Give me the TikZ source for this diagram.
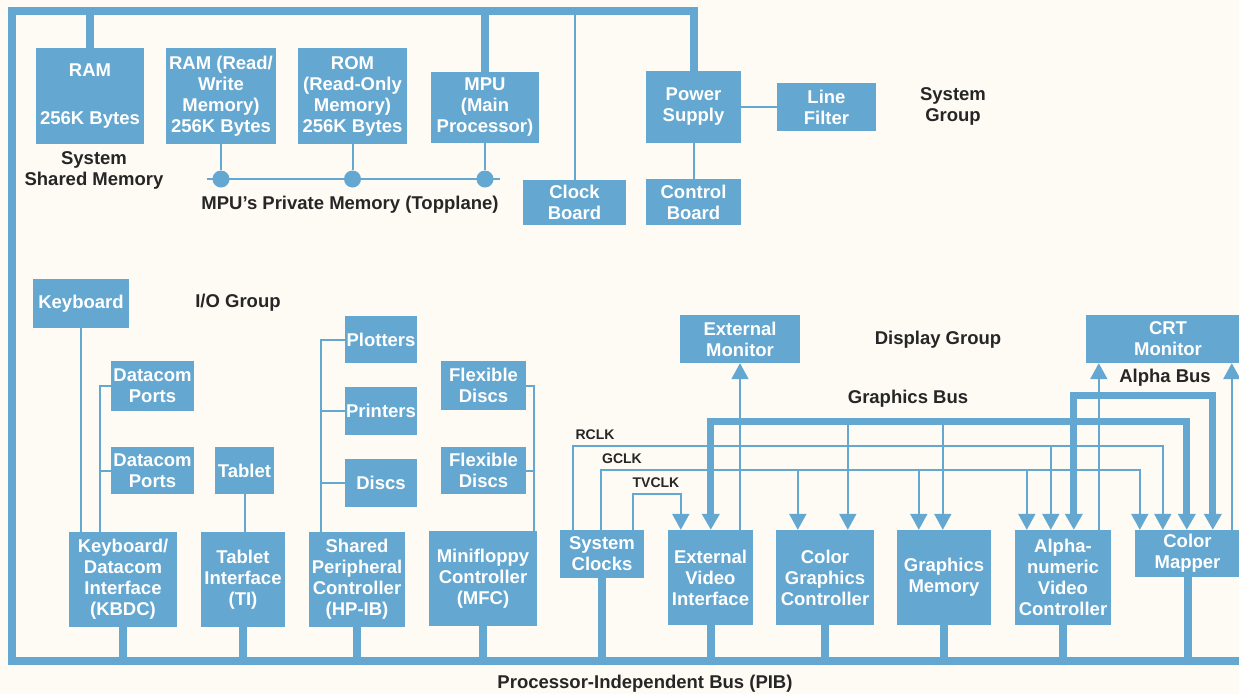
\documentclass[tikz,border=0pt]{standalone}
\usepackage{fontspec}
\setmainfont{Liberation Sans}
\usepackage{tikz}
\usetikzlibrary{positioning}
\usetikzlibrary{arrows.meta}
\usetikzlibrary{calc}
\definecolor{hpblue}{RGB}{100,167,208}
\definecolor{paper}{RGB}{253,251,244}
\definecolor{ink}{RGB}{38,38,38}

\begin{document}
\begin{tikzpicture}[x=1pt,y=-1pt]
	\useasboundingbox (0,0) rectangle (1239,694);
	\fill[paper] (0,0) rectangle (1239,694);
	\clip (0,0) rectangle (1239,694);

	\begin{scope}[every node/.style={fill=hpblue,text=white,inner sep=0pt,align=center,
	              font=\fontsize{18.5}{21}\selectfont\bfseries}]
	    \node (ram) [minimum width=108pt,minimum height=96pt] at (90,96) {RAM\\[27pt]256K Bytes};
	    \node (rwram) [minimum width=110pt,minimum height=96pt] at (221,96) {RAM (Read/\\Write\\Memory)\\256K Bytes};
	    \node (rom) [minimum width=109pt,minimum height=96pt] at (352.5,96) {ROM\\(Read-Only\\Memory)\\256K Bytes};
	    \node (mpu) [minimum width=108pt,minimum height=71pt] at (485,107.5) {MPU\\(Main\\Processor)};
	    \node (clock) [minimum width=103pt,minimum height=45pt] at (574.5,202.5) {Clock\\Board};
	    \node (power) [minimum width=95pt,minimum height=72pt] at (693.5,107) {Power\\Supply};
	    \node (filter) [minimum width=99pt,minimum height=48pt] at (826.5,107) {Line\\Filter};
	    \node (control) [minimum width=95pt,minimum height=46pt] at (693.5,202) {Control\\Board};

	    \node (keyboard) [minimum width=96pt,minimum height=49pt] at (81,303.5) {Keyboard};
	    \node (dc1) [minimum width=83pt,minimum height=50pt] at (152.5,386) {Datacom\\Ports};
	    \node (dc2) [minimum width=83pt,minimum height=47pt] at (152.5,470.5) {Datacom\\Ports};
	    \node (tablet) [minimum width=59pt,minimum height=47pt] at (244.5,470.5) {Tablet};
	    \node (kbdc) [minimum width=108pt,minimum height=95pt] at (123,579.5) {Keyboard/\\Datacom\\Interface\\(KBDC)};
	    \node (ti) [minimum width=84pt,minimum height=95pt] at (243,579.5) {Tablet\\Interface\\(TI)};
	    \node (spc) [minimum width=96pt,minimum height=95pt] at (357,579.5) {Shared\\Peripheral\\Controller\\(HP-IB)};
	    \node (plotters) [minimum width=72pt,minimum height=47pt] at (381,339.5) {Plotters};
	    \node (printers) [minimum width=72pt,minimum height=48pt] at (381,411) {Printers};
	    \node (discs) [minimum width=72pt,minimum height=48pt] at (381,483) {Discs};
	    \node (fd1) [minimum width=85pt,minimum height=49pt] at (483.5,385.5) {Flexible\\Discs};
	    \node (fd2) [minimum width=85pt,minimum height=47pt] at (483.5,470.5) {Flexible\\Discs};
	    \node (mfc) [minimum width=108pt,minimum height=95pt] at (483,578.5) {Minifloppy\\Controller\\(MFC)};

	    \node (extmon) [minimum width=120pt,minimum height=48pt] at (740,339) {External\\Monitor};
	    \node (crt) [minimum width=164pt,minimum height=48pt] at (1168,339) {CRT\\Monitor};
	    \node (sysclk) [minimum width=84pt,minimum height=48pt] at (602,554) {System\\Clocks};
	    \node (evi) [minimum width=85pt,minimum height=95pt] at (710.5,577.5) {External\\Video\\Interface};
	    \node (cgc) [minimum width=98pt,minimum height=95pt] at (825,577.5) {Color\\Graphics\\Controller};
	    \node (gmem) [minimum width=94pt,minimum height=95pt] at (944,577.5) {Graphics\\Memory};
	    \node (avc) [minimum width=96pt,minimum height=95pt] at (1063,577.5) {Alpha-\\numeric\\Video\\Controller};
	    \node (cmap) [minimum width=105pt,minimum height=47pt] at (1187.5,553.5) {Color\\Mapper};

	    \node (d1) [circle,minimum size=17pt] at (221,179) {};
	    \node (d2) [circle,minimum size=17pt] at (352.5,179) {};
	    \node (d3) [circle,minimum size=17pt] at (485,179) {};
	\end{scope}

	\begin{scope}[every node/.style={text=ink,align=center,inner sep=0pt,
	              font=\fontsize{18.5}{21}\selectfont\bfseries}]
	    \node (shared) at (94,170) {System\\Shared Memory};
	    \node (private) at (350,205) {MPU's Private Memory (Topplane)};
	    \node (sysgroup) at (953,106) {System\\Group};
	    \node (iogroup) at (238,303) {I/O Group};
	    \node (dispgroup) at (938,340) {Display Group};
	    \node (gbuslabel) at (908,399) {Graphics Bus};
	    \node (abuslabel) at (1165,378) {Alpha Bus};
	    \node (pib) at (645,684) {Processor-Independent Bus (PIB)};
	    \node (rclklabel) [font=\fontsize{14}{16}\selectfont\bfseries] at (595,435) {RCLK};
	    \node (gclklabel) [font=\fontsize{14}{16}\selectfont\bfseries] at (622,459) {GCLK};
	    \node (tvclklabel) [font=\fontsize{14}{16}\selectfont\bfseries] at (656,483) {TVCLK};
	\end{scope}

	\coordinate (tl) at (12,11);
	\coordinate (bl) at (12,661);
	\coordinate (br) at (1250,661);
	\coordinate (pmL) at (207,179);
	\coordinate (pmR) at (500,179);
	\coordinate (abus) at (0,395);
	\coordinate (gbus) at (0,421);
	\coordinate (rclk) at (0,446);
	\coordinate (gclk) at (0,470);
	\coordinate (tvclk) at (0,494);
	\coordinate (sc1) at ($(sysclk.north west)+(13,0)$);
	\coordinate (sc2) at ($(sysclk.north west)+(41,0)$);
	\coordinate (sc3) at ($(sysclk.north west)+(73,0)$);
	\coordinate (ev1) at ($(evi.north west)+(13,0)$);
	\coordinate (ev2) at ($(evi.north west)+(43,0)$);
	\coordinate (cg1) at ($(cgc.north west)+(22,0)$);
	\coordinate (cg2) at ($(cgc.north west)+(72,0)$);
	\coordinate (gm1) at ($(gmem.north west)+(22,0)$);
	\coordinate (gm2) at ($(gmem.north west)+(46,0)$);
	\coordinate (av1) at ($(avc.north west)+(12,0)$);
	\coordinate (av2) at ($(avc.north west)+(36,0)$);
	\coordinate (av3) at ($(avc.north west)+(59,0)$);
	\coordinate (av4) at ($(avc.north west)+(84,0)$);
	\coordinate (cm1) at ($(cmap.north west)+(5,0)$);
	\coordinate (cm2) at ($(cmap.north west)+(28,0)$);
	\coordinate (cm3) at ($(cmap.north west)+(52,0)$);
	\coordinate (cm4) at ($(cmap.north west)+(78,0)$);
	\coordinate (cm5) at ($(cmap.north west)+(97,0)$);
	\coordinate (dcx) at ($(dc1.west)+(-11,0)$);
	\coordinate (spx) at ($(plotters.west)+(-24,0)$);
	\coordinate (mfx) at ($(fd1.east)+(8,0)$);

	\begin{scope}[draw=hpblue,line width=2pt,
	              >={Triangle[width=17pt,length=16pt]}]
	    \draw [hpblue] (clock.north) -- (clock.north |- tl);
	    \draw [hpblue] (power.east) -- (filter.west);
	    \draw [hpblue] (power.south) -- (control.north);
	    \draw [hpblue] (pmL) -- (pmR);
	    \draw [hpblue] (rwram.south) -- (d1);
	    \draw [hpblue] (rom.south) -- (d2);
	    \draw [hpblue] (mpu.south) -- (d3);

	    \draw [hpblue] (keyboard.south) -- (keyboard.south |- kbdc.north);
	    \draw [hpblue] (dc1.west) -- (dcx) -- (dcx |- kbdc.north);
	    \draw [hpblue] (dc2.west) -- (dcx |- dc2.west);
	    \draw [hpblue] (tablet.south) -- (tablet.south |- ti.north);
	    \draw [hpblue] (plotters.west) -- (spx) -- (spx |- spc.north);
	    \draw [hpblue] (printers.west) -- (spx |- printers.west);
	    \draw [hpblue] (discs.west) -- (spx |- discs.west);
	    \draw [hpblue] (fd1.east) -- (mfx) -- (mfx |- mfc.north);
	    \draw [hpblue] (fd2.east) -- (mfx |- fd2.east);

	    \draw [hpblue,->] (extmon.south |- evi.north) -- (extmon.south);
	    \draw [hpblue,->] (av4) -- (av4 |- crt.south);
	    \draw [hpblue,->] (cm5) -- (cm5 |- crt.south);
	    \draw [hpblue,->] (sc1) -- (sc1 |- rclk) -| (cm2);
	    \draw [hpblue,->] (av2 |- rclk) -- (av2);
	    \draw [hpblue,->] (sc2) -- (sc2 |- gclk) -| (cm1);
	    \draw [hpblue,->] (cg1 |- gclk) -- (cg1);
	    \draw [hpblue,->] (gm1 |- gclk) -- (gm1);
	    \draw [hpblue,->] (av1 |- gclk) -- (av1);
	    \draw [hpblue,->] (sc3) -- (sc3 |- tvclk) -| (ev1);
	    \draw [hpblue,->] (cg2 |- gbus) -- (cg2);
	    \draw [hpblue,->] (gm2 |- gbus) -- (gm2);
	\end{scope}

	\begin{scope}[line width=7pt,miter limit=4,
	              >={Triangle[width=17pt,length=16pt]}]
	    \draw [hpblue,<->] (ev2) -- (ev2 |- gbus) -| (cm3);
	    \draw [hpblue,<->] (av3) -- (av3 |- abus) -| (cm4);
	\end{scope}

	\begin{scope}[line width=8pt]
	    \draw [hpblue] (br) -- (bl) -- (tl) -- (tl -| power.north) -- (power.north);
	    \draw [hpblue] (ram.north) -- (ram.north |- tl);
	    \draw [hpblue] (mpu.north) -- (mpu.north |- tl);
	    \foreach \blk in {kbdc,ti,spc,mfc,sysclk,evi,cgc,gmem,avc,cmap}
	        \draw [hpblue] (\blk.south) -- (\blk.south |- bl);
	\end{scope}
\end{tikzpicture}
\end{document}
